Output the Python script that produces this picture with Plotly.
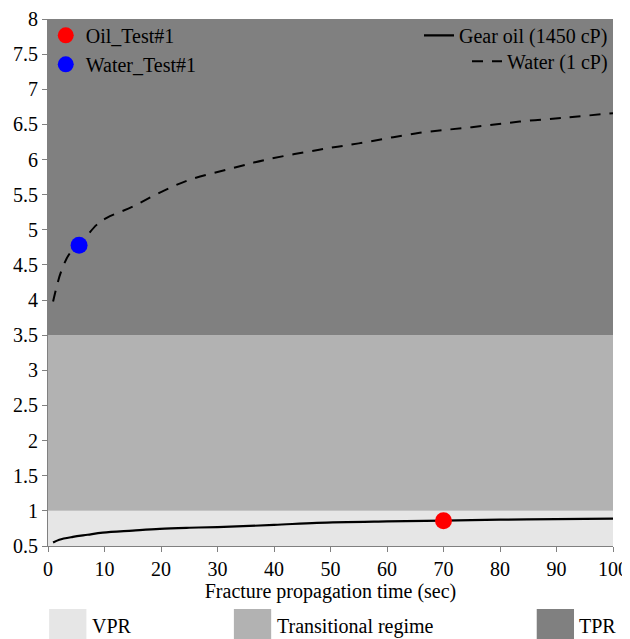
import plotly.graph_objects as go

# ---- data ----
oil_time = [0.9, 2, 4.4, 7, 9.7, 15, 19.8, 25, 30, 40, 47.6, 60, 70, 80, 90, 100]
oil_ratio = [0.55, 0.59, 0.63, 0.66, 0.69, 0.72, 0.745, 0.76, 0.77, 0.80, 0.83, 0.85, 0.86, 0.875, 0.883, 0.89]

water_time = [0.9, 2.3, 3.9, 5.5, 8.6, 10.4, 15, 19.8, 25, 32.8, 38.7, 48, 55, 65.8, 75, 83.5, 92, 100]
water_ratio = [3.98, 4.4, 4.67, 4.78, 5.07, 5.17, 5.33, 5.53, 5.71, 5.88, 6.0, 6.14, 6.23, 6.38, 6.46, 6.54, 6.60, 6.66]

test_names = ["Oil_Test#1", "Water_Test#1"]
test_time = [70, 5.5]
test_ratio = [0.86, 4.78]
test_colors = ["#ff0000", "#0000ff"]

regime_names = ["VPR", "Transitional regime", "TPR"]
regime_low = [0.5, 1.0, 3.5]
regime_high = [1.0, 3.5, 8.0]
regime_colors = ["#e6e6e6", "#b2b2b2", "#808080"]

x_range = [0, 100]
y_range = [0.5, 8]

FONT = "Liberation Serif"
FS = 20

fig = go.Figure()

# background bands
for lo, hi, c in zip(regime_low, regime_high, regime_colors):
    fig.add_shape(type="rect", xref="paper", yref="y", x0=0, x1=1, y0=lo, y1=hi,
                  fillcolor=c, line=dict(width=0), layer="below")

fig.add_trace(go.Scatter(x=oil_time, y=oil_ratio, mode="lines", name="Gear oil (1450 cP)",
                         line=dict(color="black", width=2.2, shape="spline"), legend="legend2"))
fig.add_trace(go.Scatter(x=water_time, y=water_ratio, mode="lines", name="Water (1 cP)",
                         line=dict(color="black", width=2, dash="11px,9px", shape="spline"), legend="legend3"))

for n, t, r, c in zip(test_names, test_time, test_ratio, test_colors):
    fig.add_trace(go.Scatter(x=[t], y=[r], mode="markers", name=n,
                             marker=dict(color=c, size=17), legend="legend"))

# bottom regime legend (swatches + text)
sw_x0 = [0.002, 0.329, 0.865]
sw_w = 0.066
for name, c, x0 in zip(regime_names, regime_colors, sw_x0):
    fig.add_shape(type="rect", xref="paper", yref="paper", x0=x0, x1=x0 + sw_w,
                  y0=-0.18, y1=-0.1195, fillcolor=c, line=dict(width=0))
    fig.add_annotation(xref="paper", yref="paper", x=x0 + sw_w + 0.006, y=-0.152,
                       text=name, showarrow=False, xanchor="left", yanchor="middle",
                       font=dict(family=FONT, size=FS, color="black"))

tickfont = dict(family=FONT, size=FS, color="black")
fig.update_layout(
    width=622, height=631,
    margin=dict(l=40, r=17, t=11, b=93, autoexpand=False),
    paper_bgcolor="white", plot_bgcolor="white",
    font=dict(family=FONT, size=FS, color="black"),
    legend=dict(x=-0.004, y=1.006, xanchor="left", yanchor="top", bgcolor="rgba(0,0,0,0)",
                font=dict(family=FONT, size=FS), tracegroupgap=0, itemsizing="trace"),
    legend2=dict(x=1.0, y=1.006, xanchor="right", yanchor="top", bgcolor="rgba(0,0,0,0)",
                 font=dict(family=FONT, size=FS)),
    legend3=dict(x=1.0, y=0.957, xanchor="right", yanchor="top", bgcolor="rgba(0,0,0,0)",
                 font=dict(family=FONT, size=FS)),
    xaxis=dict(range=x_range, dtick=10, ticks="outside", ticklen=5, tickcolor="#808080",
               showline=True, linecolor="#808080", linewidth=1, showgrid=False, zeroline=False,
               automargin=False,
               title=dict(text="Fracture propagation time (sec)", standoff=0,
                          font=dict(family=FONT, size=FS)),
               tickfont=tickfont),
    yaxis=dict(range=y_range, dtick=0.5, ticks="outside", ticklen=5, tickcolor="#808080",
               showline=True, linecolor="#808080", linewidth=1, showgrid=False, zeroline=False,
               automargin=False, tickfont=tickfont),
)

fig.write_html("out.html")
